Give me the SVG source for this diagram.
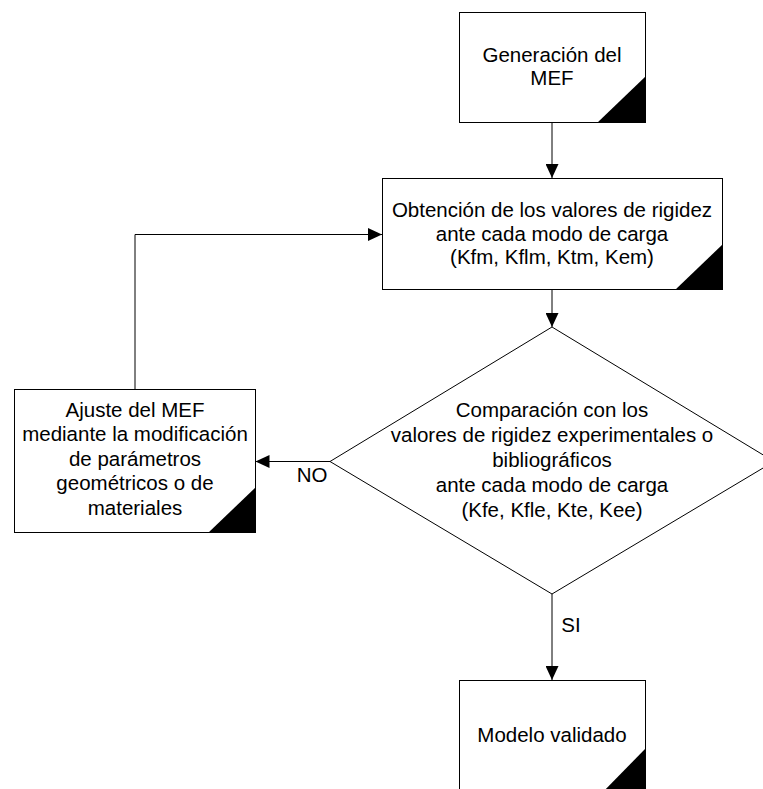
<svg xmlns="http://www.w3.org/2000/svg" width="763" height="789" viewBox="0 0 763 789">
  <style>
    .box { fill: #fff; stroke: #000; stroke-width: 1; }
    .corner { fill: #000; stroke: none; }
    .lbl { font-family: "Liberation Sans", Arial, sans-serif; font-size: 20.5px; fill: #000; text-anchor: middle; }
    .edge { fill: none; stroke: #000; stroke-width: 1; }
  </style>
  <defs>
    <marker id="arrow" viewBox="0 0 14 13" refX="14" refY="6.5" markerWidth="14" markerHeight="13" markerUnits="userSpaceOnUse" orient="auto">
      <path d="M0,0 L14,6.5 L0,13 Z" fill="#000"/>
    </marker>
  </defs>
  <rect width="763" height="789" fill="#fff"/>

  <!-- connectors -->
  <g id="connectors">
    <path class="edge" d="M552,122 L552,178" marker-end="url(#arrow)"/>
    <path class="edge" d="M552,289.5 L552,327" marker-end="url(#arrow)"/>
    <path class="edge" d="M552,594 L552,680" marker-end="url(#arrow)"/>
    <path class="edge" d="M330,461.5 L255.5,461.5" marker-end="url(#arrow)"/>
    <path class="edge" d="M135,389 L135,234.5 L382,234.5" marker-end="url(#arrow)"/>
    <text class="lbl" x="312" y="482">NO</text>
    <text class="lbl" x="571" y="632">SI</text>
  </g>

  <!-- process: mesh generation -->
  <g id="node-generacion">
    <rect class="box" x="459.5" y="12.5" width="186" height="110"/>
    <polygon class="corner" points="597,123 646,123 646,76"/>
    <text class="lbl" x="552" y="61.5">Generación del</text>
    <text class="lbl" x="552" y="84.5">MEF</text>
  </g>

  <!-- process: stiffness values -->
  <g id="node-obtencion">
    <rect class="box" x="382.5" y="178.5" width="340" height="111"/>
    <polygon class="corner" points="675,290 723,290 723,244"/>
    <text class="lbl" x="552" y="217">Obtención de los valores de rigidez</text>
    <text class="lbl" x="552" y="240.5">ante cada modo de carga</text>
    <text class="lbl" x="552" y="264">(Kfm, Kflm, Ktm, Kem)</text>
  </g>

  <!-- decision: comparison -->
  <g id="node-comparacion">
    <polygon class="box" points="552,327 774,461.5 552,594 330,461.5"/>
    <text class="lbl" x="552" y="416.5">Comparación con los</text>
    <text class="lbl" x="552" y="441.5">valores de rigidez experimentales o</text>
    <text class="lbl" x="552" y="466.5">bibliográficos</text>
    <text class="lbl" x="552" y="491.5">ante cada modo de carga</text>
    <text class="lbl" x="552" y="516.5">(Kfe, Kfle, Kte, Kee)</text>
  </g>

  <!-- process: model adjustment -->
  <g id="node-ajuste">
    <rect class="box" x="14.5" y="389.5" width="241" height="143"/>
    <polygon class="corner" points="208,533 256,533 256,487"/>
    <text class="lbl" x="135" y="416.5">Ajuste del MEF</text>
    <text class="lbl" x="135" y="441">mediante la modificación</text>
    <text class="lbl" x="135" y="465.5">de parámetros</text>
    <text class="lbl" x="135" y="490">geométricos o de</text>
    <text class="lbl" x="135" y="514.5">materiales</text>
  </g>

  <!-- process: validated model -->
  <g id="node-validado">
    <rect class="box" x="459.5" y="680.5" width="186" height="112"/>
    <polygon class="corner" points="600,795 646,795 646,748"/>
    <text class="lbl" x="552" y="742">Modelo validado</text>
  </g>
</svg>
